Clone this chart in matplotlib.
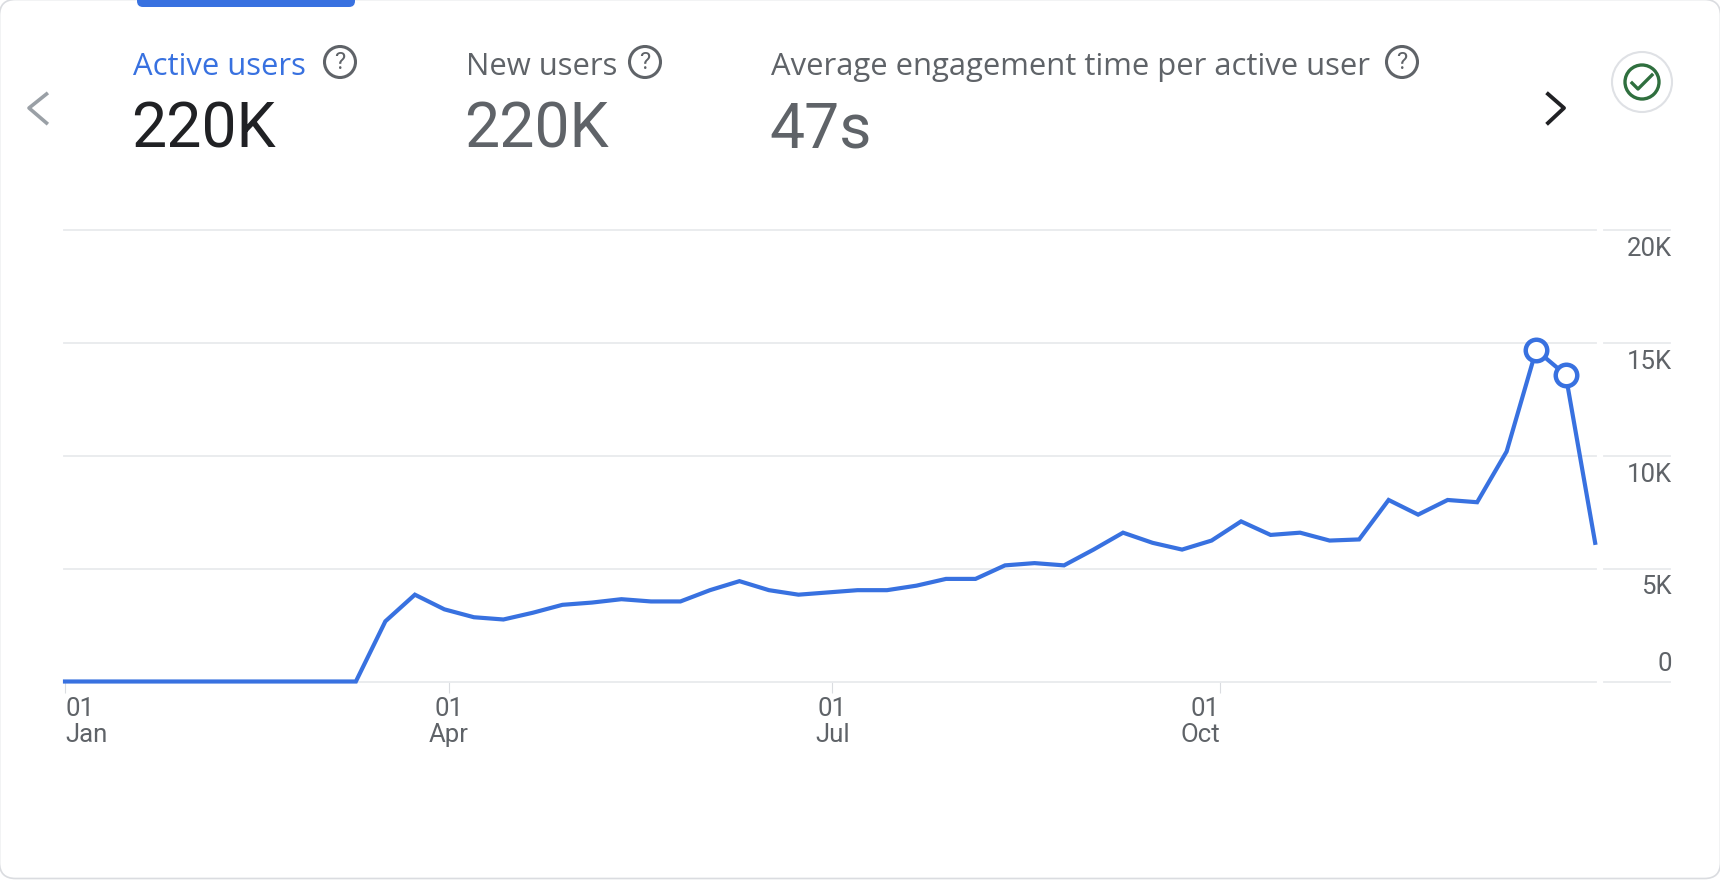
import matplotlib
matplotlib.use("Agg")
import matplotlib.pyplot as plt
from matplotlib.patches import Circle, FancyBboxPatch

# days since 01 Jan for each weekly point
week_days = [0, 6, 13, 20, 27, 34, 41, 48, 55, 62, 69, 76, 83, 90, 97, 104, 111, 118,
             125, 132, 139, 146, 153, 160, 167, 174, 181, 188, 195, 202, 209, 216, 223,
             230, 237, 244, 251, 258, 265, 272, 279, 286, 293, 300, 307, 314, 321, 328,
             335, 342, 349, 356, 363]
active_users = [0, 0, 0, 0, 0, 0, 0, 0, 0, 0, 0, 2670, 3850, 3200, 2850, 2750, 3050, 3400,
                3500, 3650, 3550, 3550, 4050, 4450, 4050, 3850, 3950, 4050, 4050, 4250,
                4550, 4550, 5150, 5250, 5150, 5850, 6600, 6150, 5850, 6250, 7100, 6500,
                6600, 6250, 6300, 8050, 7400, 8050, 7950, 10200, 14700, 13600, 6150]
highlight_days = [349, 356]
highlight_users = [14700, 13600]

x_ticks = [0, 91, 182, 274]
x_labels = ["01\nJan", "01\nApr", "01\nJul", "01\nOct"]
x_aligns = ["left", "center", "center", "right"]
y_ticks = [0, 5000, 10000, 15000, 20000]
y_labels = ["0", "5K", "10K", "15K", "20K"]

metric_names = ["Active users", "New users", "Average engagement time per active user"]
metric_values = ["220K", "220K", "47s"]
metric_x = [133, 466, 771]
help_x = [340, 645, 1402]
name_colors = ["#3871e0", "#5f6368", "#5f6368"]
value_colors = ["#202124", "#5f6368", "#5f6368"]

BLUE = "#3871e0"
GRID = "#e8eaed"
GREY = "#5f6368"
W, H = 1720, 880
plt.rcParams["font.family"] = ["Roboto", "DejaVu Sans"]

fig = plt.figure(figsize=(W / 100, H / 100), dpi=100, facecolor="white")

# page layer in pixel coordinates, for the card and the header
bg = fig.add_axes([0, 0, 1, 1])
bg.set_xlim(0, W)
bg.set_ylim(H, 0)
bg.axis("off")

bg.add_patch(FancyBboxPatch((-0.5, -0.5), W + 1, H - 1, boxstyle="round,pad=0,rounding_size=16",
                            fc="white", ec="#dadce0", lw=1.2, clip_on=True))
bg.add_patch(FancyBboxPatch((137, -20), 218, 27, boxstyle="round,pad=0,rounding_size=6",
                            fc=BLUE, ec="none"))

for name, value, x, hx, nc, vc in zip(metric_names, metric_values, metric_x, help_x,
                                      name_colors, value_colors):
    bg.text(x, 75, name, fontsize=22.3, color=nc, va="baseline", ha="left", family="Open Sans")
    bg.text(x - 2, 147, value, fontsize=45, color=vc, va="baseline", ha="left")
    bg.add_patch(Circle((hx, 62), 15.5, fc="none", ec=GREY, lw=2.2))
    bg.text(hx, 62.5, "?", fontsize=17, color=GREY, ha="center", va="center")

# arrows and status icon
bg.plot([46.5, 29, 46.5], [94, 108, 123], color="#9aa0a6", lw=2.6)
bg.plot([1548, 1564, 1548], [94, 108, 123], color="#202124", lw=2.8)
bg.add_patch(Circle((1642, 82), 30, fc="white", ec="#dfe1e5", lw=1.5))
bg.add_patch(Circle((1642, 82), 17, fc="none", ec="#2f6f3e", lw=2.4))
bg.plot([1632, 1638, 1652], [83, 89, 75], color="#2f6f3e", lw=2.4)

# chart
ax_left, ax_right, ax_top, ax_bottom = 64, 1596, 230.5, 681.5
ax = fig.add_axes([ax_left / W, 1 - ax_bottom / H, (ax_right - ax_left) / W, (ax_bottom - ax_top) / H])
ax.patch.set_alpha(0)
ax.set_xlim(-0.24, 363.2)
ax.set_ylim(0, 20000)
for s in ax.spines.values():
    s.set_visible(False)

ax.set_yticks(y_ticks)
ax.set_yticklabels([])
ax.tick_params(axis="y", length=0)
ax.grid(axis="y", color=GRID, lw=1.3, clip_on=False)
ax.set_axisbelow(True)

ax.set_xticks(x_ticks)
ax.set_xticklabels(x_labels, fontsize=18.5, color=GREY, linespacing=1.08)
ax.tick_params(axis="x", length=8, width=0.8, color="#dadce0", pad=3.5)
for lab, al in zip(ax.get_xticklabels(), x_aligns):
    lab.set_horizontalalignment(al)
    lab.set_multialignment(al)

# grid stubs and value labels right of the plot
t = ax.get_yaxis_transform()
stub_a = (1604 - ax_left) / (ax_right - ax_left)
stub_b = (1670 - ax_left) / (ax_right - ax_left)
label_x = (1672 - ax_left) / (ax_right - ax_left)
for v, lab in zip(y_ticks, y_labels):
    ax.plot([stub_a, stub_b], [v, v], transform=t, color=GRID, lw=1.3, clip_on=False)
    off = 12.5 if v == 0 else -13.5
    ax.annotate(lab, (label_x, v), xycoords=t, xytext=(0, off), textcoords="offset points",
                ha="right", va="center", fontsize=18.5, color=GREY)

ax.plot(week_days, active_users, color=BLUE, lw=3, solid_joinstyle="miter", clip_on=False, zorder=3)
ax.plot(highlight_days, highlight_users, ls="none", marker="o", ms=15.5, mfc="white", mec=BLUE,
        mew=3.2, clip_on=False, zorder=4)

fig.savefig("out.png", dpi=100, facecolor="white")
